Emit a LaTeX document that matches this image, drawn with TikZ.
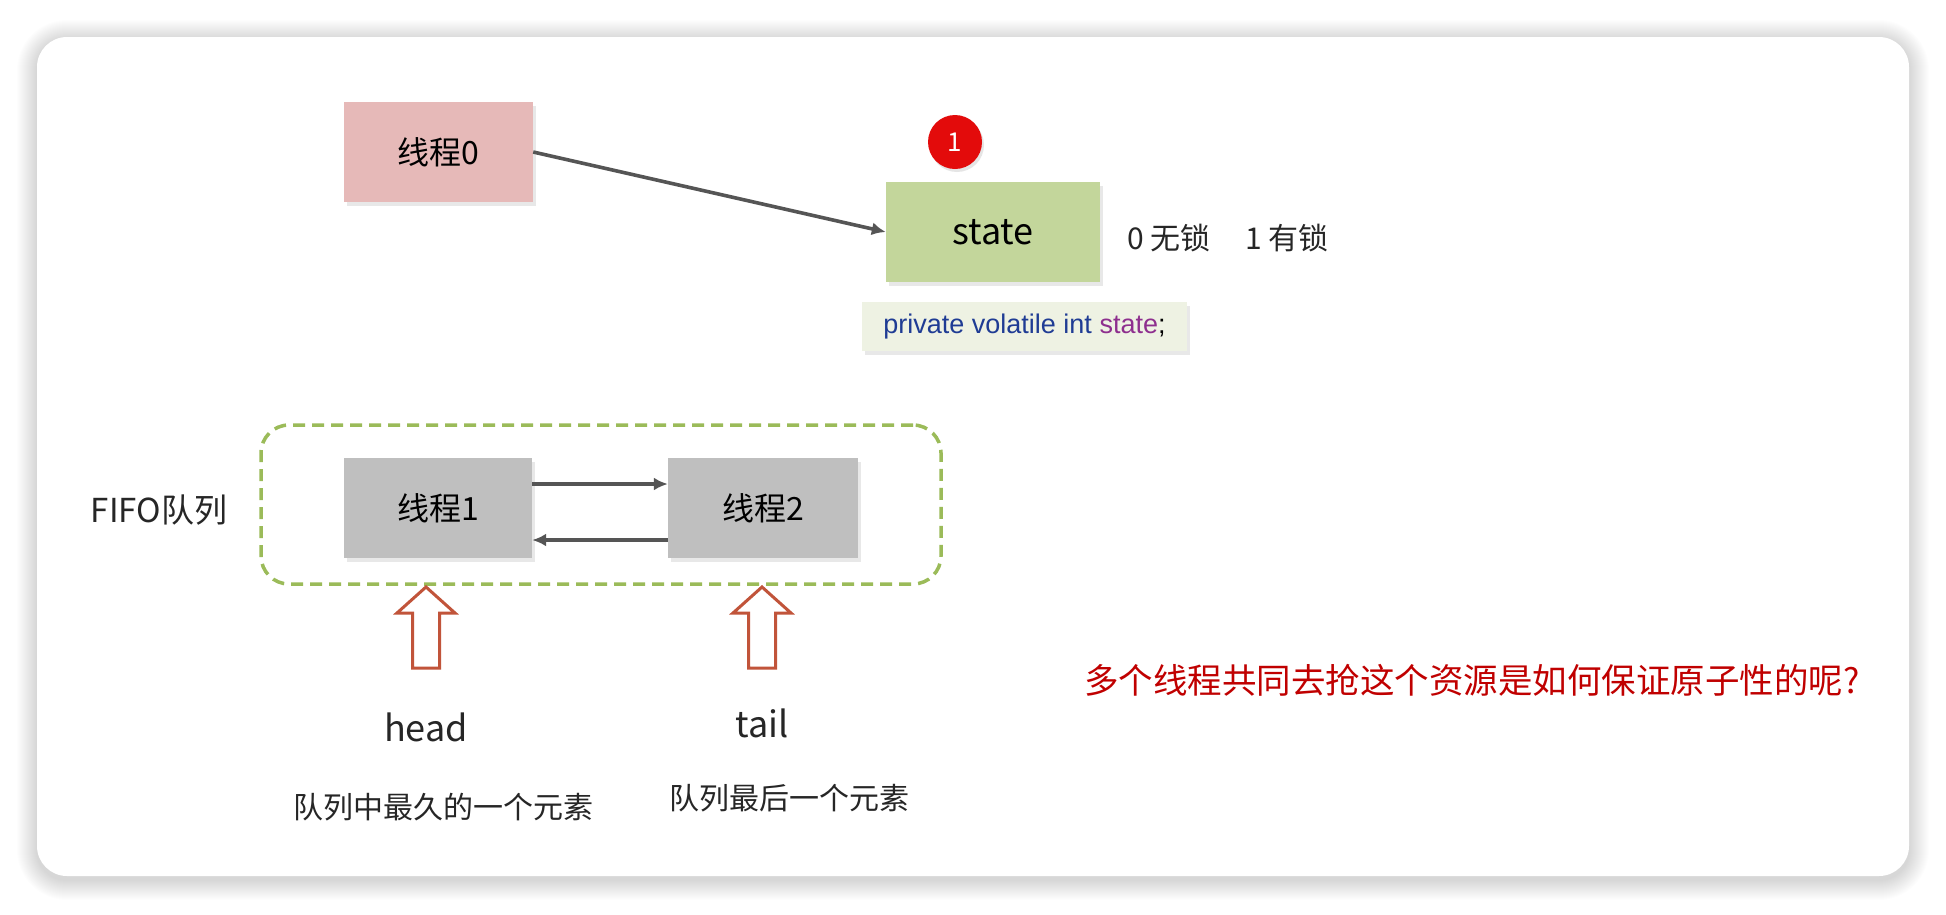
\documentclass[tikz,border=0pt]{standalone}
\usepackage{fontspec}
\newfontfamily\cjk{Noto Sans CJK SC}
\newfontfamily\codefont{Liberation Sans}
\usetikzlibrary{arrows.meta,positioning,shadows}
\usepackage{xcolor}
\definecolor{pinkfill}{HTML}{E6B9B8}
\definecolor{greenfill}{HTML}{C3D69B}
\definecolor{greyfill}{HTML}{BFBFBF}
\definecolor{codefill}{HTML}{EEF2E3}
\definecolor{codeblue}{HTML}{1F3C94}
\definecolor{codepurple}{HTML}{8E2F8E}
\definecolor{dashgreen}{HTML}{9BBB59}
\definecolor{hollowred}{HTML}{C1543A}
\definecolor{darkred}{HTML}{C00000}
\definecolor{badgered}{HTML}{E30B0B}
\definecolor{linkgrey}{HTML}{555555}

\begin{document}
\begin{tikzpicture}[
  x=1pt, y=-1pt,
  box/.style={inner sep=0pt, minimum height=100pt, font=\cjk\fontsize{32}{38}\selectfont,
    drop shadow={shadow xshift=3pt, shadow yshift=-4pt, opacity=0.18}},
  flow/.style={-{Latex[length=14pt,width=13pt]}, draw=linkgrey, line width=3.6pt},
  txt/.style={inner sep=0pt, font=\cjk\fontsize{30}{36}\selectfont, text=black!85},
  hollow/.style={draw=hollowred, fill=white, line width=3pt, line join=miter}
]
\useasboundingbox (0,0) rectangle (1946,914);
% card with soft shadow
\fill[white] (0,0) rectangle (1946,914);
\foreach \i in {1,...,20}
  \fill[black, opacity=0.007, rounded corners=30+\i] (37-\i,37-\i+3) rectangle (1909+\i,876+\i+4);
\fill[white, rounded corners=30] (37,37) rectangle (1909,876);

% lock state
\node[box, fill=pinkfill, minimum width=189pt] (thread0) at (438.5,152) {线程0};
\node[box, fill=greenfill, minimum width=214pt, font=\cjk\fontsize{36}{40}\selectfont] (state) at (993,232) {state};
\node[circle, fill=badgered, minimum size=54pt, inner sep=0pt, text=white,
  font=\cjk\fontsize{26}{30}\selectfont,
  drop shadow={shadow xshift=2pt, shadow yshift=-3pt, opacity=0.2}] (badge) at (955,142) {1};
\node[txt, anchor=west] (locknote) at (1127,238) {0 无锁\hspace{1.15em}1 有锁};
\node[fill=codefill, minimum width=325pt, minimum height=49pt, inner sep=0pt,
  font=\codefont\fontsize{27}{32}\selectfont,
  drop shadow={shadow xshift=3pt, shadow yshift=-4pt, opacity=0.18}] (code) at (1024.5,326.5)
  {\textcolor{codeblue}{private volatile int} \textcolor{codepurple}{state};};
\draw[flow] (thread0.east) -- (state.west);

% FIFO queue
\node[draw=dashgreen, line width=3.5pt, dash pattern=on 12pt off 7pt, rounded corners=28pt,
  minimum width=680pt, minimum height=159pt] (fifo) at (601,504.5) {};
\node[box, fill=greyfill, minimum width=188pt] (thread1) at (438,508) {线程1};
\node[box, fill=greyfill, minimum width=190pt] (thread2) at (763,508) {线程2};
\draw[flow] ([yshift=24pt]thread1.east) -- ([yshift=24pt]thread2.west);
\draw[flow] ([yshift=-32pt]thread2.west) -- ([yshift=-32pt]thread1.east);
\node[txt, font=\cjk\fontsize{33}{38}\selectfont] (fifolabel) at (159,510) {FIFO队列};

% head and tail pointers
\foreach \ax in {426,762}
  \draw[hollow] (\ax,587) -- (\ax+29,613) -- (\ax+13.5,613) -- (\ax+13.5,668)
    -- (\ax-13.5,668) -- (\ax-13.5,613) -- (\ax-29,613) -- cycle;
\node[txt, font=\cjk\fontsize{36}{40}\selectfont] (head) at (426,727) {head};
\node[txt, font=\cjk\fontsize{36}{40}\selectfont] (tail) at (762,723) {tail};
\node[txt] (headnote) at (443,807) {队列中最久的一个元素};
\node[txt] (tailnote) at (789,798) {队列最后一个元素};

\node[txt, text=darkred, font=\cjk\fontsize{34.5}{40}\selectfont] (question) at (1472,680)
  {多个线程共同去抢这个资源是如何保证原子性的呢?};
\end{tikzpicture}
\end{document}
